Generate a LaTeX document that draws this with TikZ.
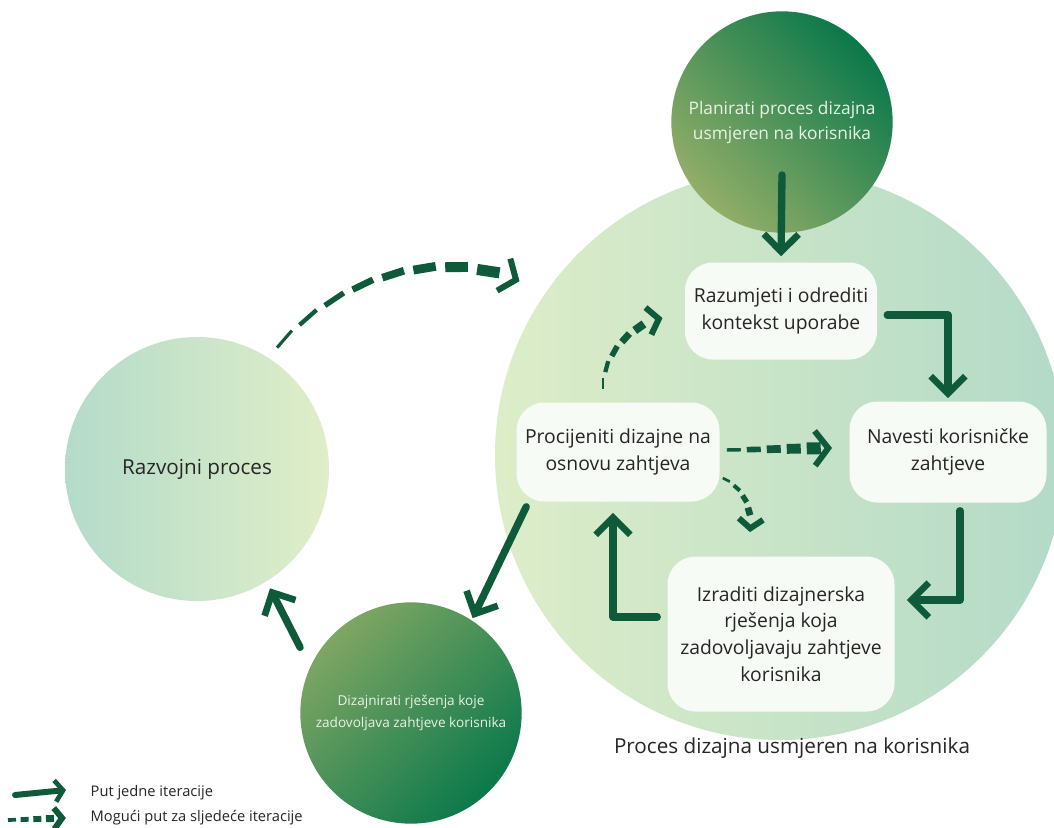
\documentclass[tikz,border=0pt]{standalone}
\usepackage{fontspec}
\setmainfont{Open Sans}
\usetikzlibrary{arrows.meta,calc,decorations.markings}
\definecolor{arrowg}{HTML}{0F5A3A}
\definecolor{bigL}{HTML}{DDEDC8}
\definecolor{bigR}{HTML}{B3DAC8}
\definecolor{devL}{HTML}{B4DBCA}
\definecolor{devR}{HTML}{DFEEC8}
\definecolor{darkG}{HTML}{0B784B}
\definecolor{oliveG}{HTML}{93AE68}
\definecolor{boxfill}{HTML}{F7FBF5}
\definecolor{txt}{HTML}{262626}
\definecolor{lighttxt}{HTML}{EAF2E4}
\tikzset{
  bigcirc/.style={circle, inner sep=0pt, minimum size=427.5pt, left color=bigL, right color=bigR, draw=none},
  devcirc/.style={circle, inner sep=0pt, minimum size=198pt, left color=devL, right color=devR, draw=none, text=txt, font=\fontsize{15.5}{18}\selectfont},
  darkcirc/.style={circle, inner sep=0pt, minimum size=166pt, draw=none, text=lighttxt, align=center},
  stepbox/.style={rectangle, rounded corners=21pt, fill=boxfill, draw=none, text=txt, align=center, inner sep=0pt, font=\fontsize{14.5}{20}\selectfont},
  solidarr/.style={draw=arrowg, line width=5.5pt, line cap=round, line join=round, -{Straight Barb[length=13pt, width=26pt, line width=5pt]}},
  tapdash/.style n args={6}{
    decoration={markings,
      mark=between positions 0 and #1 step #2 with {
        \pgfmathsetmacro\tw{#4+#5*\pgfkeysvalueof{/pgf/decoration/mark info/sequence number}}
        \fill[arrowg] (0pt,-\tw pt/2) rectangle (#3,\tw pt/2);
      },
      mark=at position 0.998 with {\arrow[arrowg, line width=4.5pt]{Straight Barb[length=#6, width=2.6*#6]}}
    },
    decorate},
}
\begin{document}
\begin{tikzpicture}[x=0.75pt, y=-0.75pt]
\useasboundingbox (0,0) rectangle (1054,828);
\fill[white] (0,0) rectangle (1054,828);

% circles
\node[bigcirc] (big) at (780,455) {};
\node[devcirc] (dev) at (197,469) {Razvojni proces};
\node[darkcirc, top color=darkG, bottom color=oliveG, shading angle=-45,
      font=\fontsize{13}{18.75}\selectfont] (plan) at (782,122)
      {Planirati proces dizajna\\usmjeren na korisnika};
\node[darkcirc, top color=oliveG!85!darkG, bottom color=darkG, shading angle=45,
      font=\fontsize{10.2}{17}\selectfont] (dizaj) at (411,713)
      {Dizajnirati rješenja koje\\zadovoljava zahtjeve korisnika};

% boxes
\node[stepbox, minimum width=144pt, minimum height=72.75pt] (razum) at (781,311)
      {Razumjeti i odrediti\\kontekst uporabe};
\node[stepbox, minimum width=147.75pt, minimum height=75.75pt] (navesti) at (948,452)
      {Navesti korisničke\\zahtjeve};
\node[stepbox, minimum width=152.25pt, minimum height=74.25pt] (proc) at (618,452)
      {Procijeniti dizajne na\\osnovu zahtjeva};
\node[stepbox, minimum width=170.25pt, minimum height=116.25pt] (izr) at (781,634)
      {Izraditi dizajnerska\\rješenja koja\\zadovoljavaju zahtjeve\\korisnika};

\node[text=txt, font=\fontsize{15.5}{18}\selectfont] (lbl) at (792,748)
      {Proces dizajna usmjeren na korisnika};

% solid arrows
\draw[solidarr] ($(plan.south)+(0,-58)$) -- ($(razum.north)+(0,-6)$);
\draw[solidarr] ($(razum.east)+(10,4)$) -| ($(navesti.north)+(0,-3)$);
\draw[solidarr] ($(navesti.south)+(12,8)$) |- ($(izr.east)+(12,-34)$);
\draw[solidarr] ($(izr.west)+(-10,-17)$) -| ($(proc.south)+(-5,11)$);
\draw[solidarr] ($(proc.south west)+(10,5)$) -- ($(dizaj.55)+(-2,-4)$);
\draw[solidarr] ($(dizaj.145)+(-20,-2)$) -- ($(dev.-50)+(-12,18)$);

% dashed arrows (tapering brush dashes)
\coordinate (d7s) at ($(dev.50)+(-5,-20)$);
\coordinate (d7e) at ($(big.150)+(-13,-31)$);
\path[tapdash={0.92}{24pt}{17pt}{1.5}{0.85}{10pt}] (d7s) .. controls (340,275) and (440,248) .. (d7e);
\path[tapdash={0.86}{13pt}{8.5pt}{1.2}{1.0}{8pt}] ($(proc.north)+(-15,-13)$) .. controls (603,355) and (630,325) .. ($(razum.west)+(-22,7)$);
\path[tapdash={0.86}{15pt}{10.5pt}{1.0}{1.6}{10pt}] ($(proc.east)+(7,-2)$) -- ($(navesti.west)+(-17,-4)$);
\path[tapdash={0.80}{10pt}{6pt}{1.0}{1.0}{7pt}] ($(proc.east)+(3,26)$) .. controls (742,488) and (752,505) .. ($(izr.north)+(-31,-24)$);

% legend
\coordinate (l1a) at (15,795);
\coordinate (l1b) at (66,790);
\coordinate (l2a) at (8,820);
\coordinate (l2b) at (66,818);
\draw[draw=arrowg, line width=4.5pt, line cap=round, -{Straight Barb[length=6pt, width=16pt, line width=3.5pt]}] (l1a) -- (l1b);
\path[tapdash={0.80}{9.5pt}{6pt}{2.0}{0.8}{6pt}] (l2a) -- (l2b);
\node[anchor=west, text=txt, font=\fontsize{11}{13}\selectfont] (leg1) at (86,793) {Put jedne iteracije};
\node[anchor=west, text=txt, font=\fontsize{11}{13}\selectfont] (leg2) at (86,818) {Mogući put za sljedeće iteracije};
\end{tikzpicture}
\end{document}
